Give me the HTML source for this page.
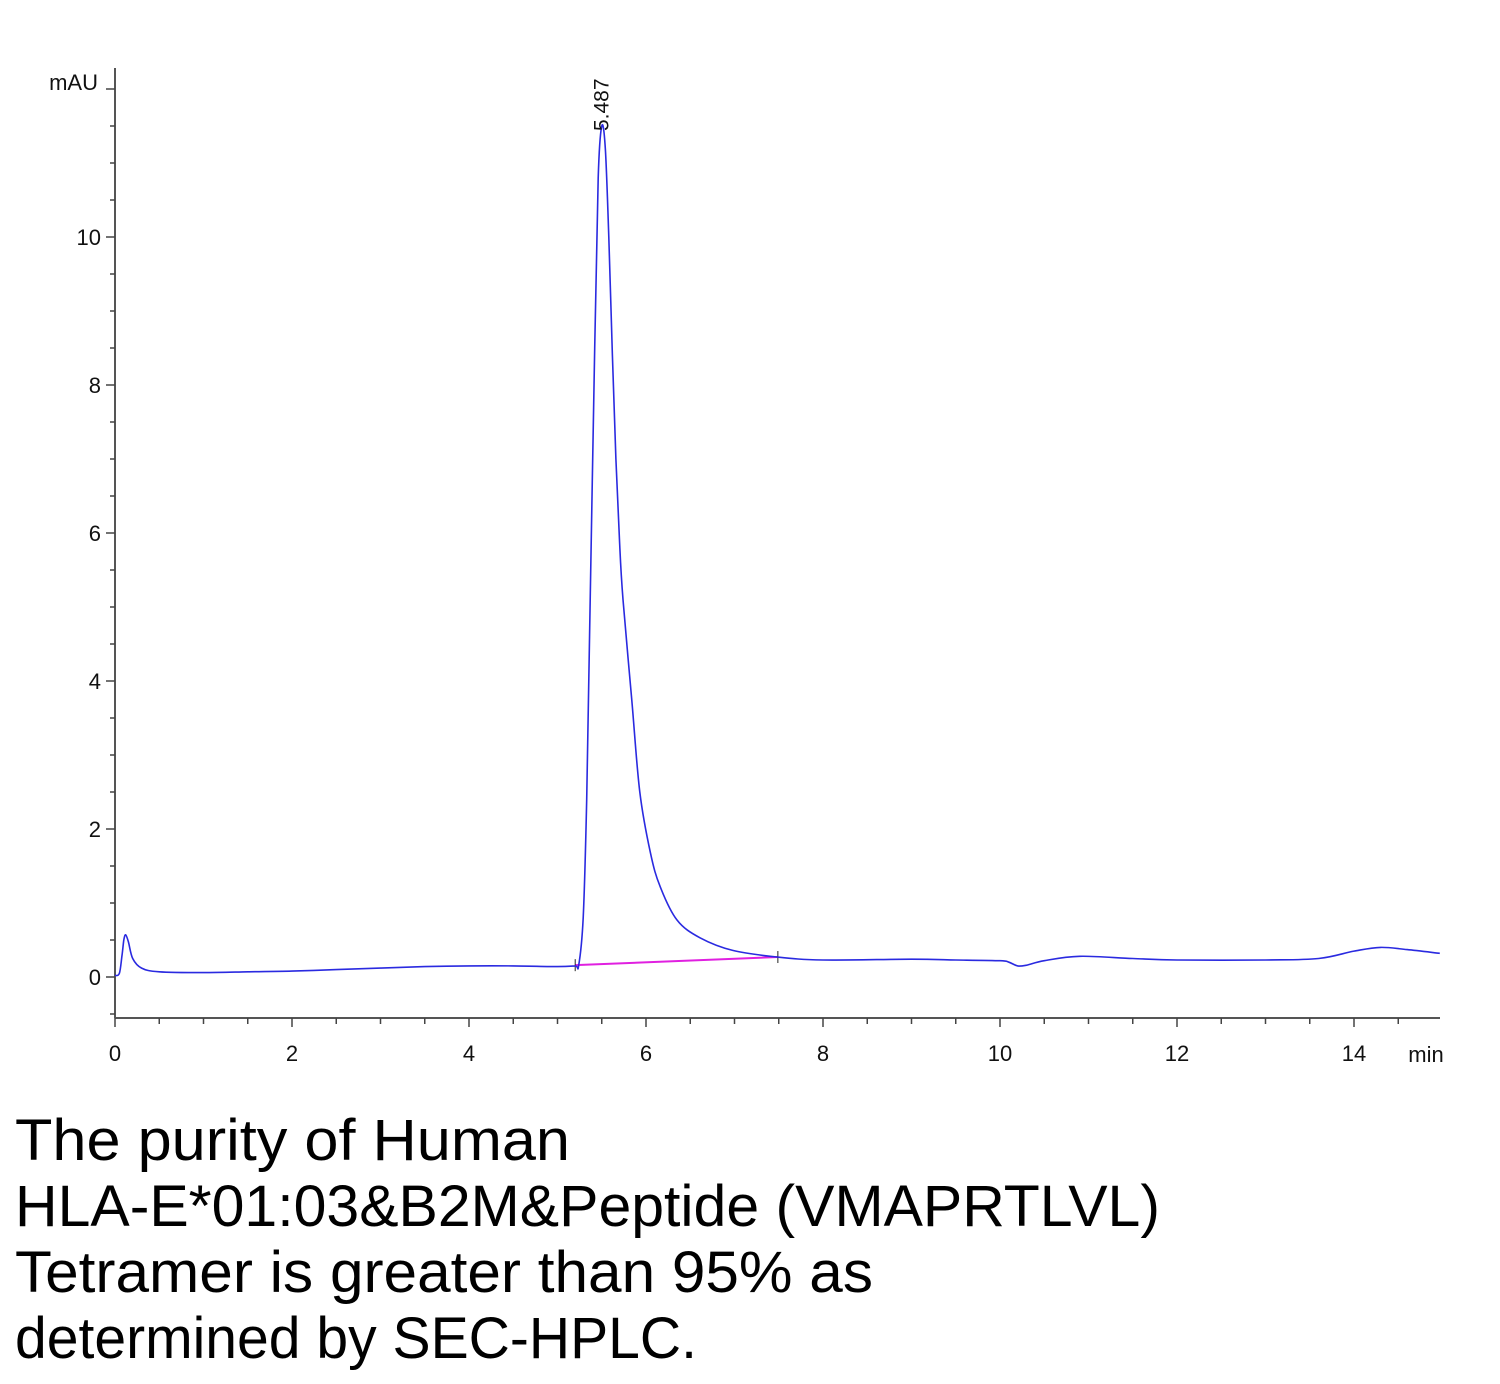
<!DOCTYPE html>
<html><head><meta charset="utf-8"><style>
html,body{margin:0;padding:0;background:#fff;}
svg{display:block;}
text{font-family:"Liberation Sans",sans-serif;}
</style></head><body>
<svg id="chart" width="1500" height="1384" viewBox="0 0 1500 1384" xmlns="http://www.w3.org/2000/svg">
<g id="axes"></g>
<g id="plot"></g>
<g font-size="58" fill="#000">
<text x="15" y="1160" textLength="555" lengthAdjust="spacingAndGlyphs">The purity of Human</text>
<text x="15" y="1226" textLength="1145" lengthAdjust="spacingAndGlyphs">HLA-E*01:03&amp;B2M&amp;Peptide (VMAPRTLVL)</text>
<text x="15" y="1292" textLength="858" lengthAdjust="spacingAndGlyphs">Tetramer is greater than 95% as</text>
<text x="15" y="1358" textLength="682" lengthAdjust="spacingAndGlyphs">determined by SEC-HPLC.</text>
</g>
</svg>
<script>
const times = [0,0.05,0.08,0.1,0.12,0.15,0.2,0.3,0.5,1,1.5,2,2.5,3,3.5,4,4.5,5,5.2,5.24,5.29,5.33,5.37,5.42,5.46,5.5,5.54,5.58,5.62,5.66,5.7,5.74,5.84,5.93,6.05,6.16,6.35,6.61,6.98,7.48,8,9,9.5,10,10.1,10.2,10.3,10.5,10.9,11.5,12,13,13.6,14,14.3,14.6,14.97];
const signal = [0.02,0.05,0.3,0.5,0.57,0.48,0.25,0.12,0.07,0.06,0.07,0.08,0.1,0.12,0.14,0.15,0.15,0.14,0.15,0.16,0.8,2.4,5.1,8.5,10.8,11.5,11.2,10.0,8.4,7.0,5.9,5.1,3.74,2.5,1.68,1.22,0.77,0.53,0.36,0.27,0.23,0.24,0.23,0.22,0.2,0.15,0.16,0.22,0.28,0.25,0.23,0.23,0.25,0.35,0.4,0.37,0.32];
const baselineT = [5.2,7.49];
const baselineV = [0.16,0.27];
const peakLabel = ["5.487"];
const peakT = [5.487];
const yTicks = [0,2,4,6,8,10];
const xTicks = [0,2,4,6,8,10,12,14];

const NS="http://www.w3.org/2000/svg";
const X0=115, XS=88.5, Y0=977, YS=74;
const sx=t=>X0+t*XS, sy=v=>Y0-v*YS;
const axes=document.getElementById('axes'), plot=document.getElementById('plot');
function mk(tag,attrs,parent){const e=document.createElementNS(NS,tag);for(const k in attrs)e.setAttribute(k,attrs[k]);parent.appendChild(e);return e;}
const AXB=1018, AXT=68, AXR=1440;
let e=mk('line',{x1:X0,y1:AXT,x2:X0,y2:AXB,stroke:'#555','stroke-width':2},axes);


e=mk('line',{x1:X0,y1:AXB,x2:AXR,y2:AXB,stroke:'#555','stroke-width':2},axes);


for(let v=-0.5;v<=12.01;v+=0.5){const maj=Math.abs(v%2)<1e-6||Math.abs(v-12)<1e-6;
 e=mk('line',{x1:X0-(maj?9:5),y1:sy(v),x2:X0,y2:sy(v),stroke:'#444','stroke-width':1.5},axes);
 
 }
yTicks.forEach(v=>{e=mk('text',{x:X0-14,y:sy(v)+8,'font-size':22,'text-anchor':'end',fill:'#111',transform:'',},axes);e.textContent=v;
 
 });
e=mk('text',{x:98,y:sy(12)+1,'font-size':22,'text-anchor':'end',fill:'#111'},axes);e.textContent='mAU';


for(let t=0;t<=14.97;t+=0.5){const maj=Math.abs(t%2)<1e-6;
 e=mk('line',{x1:sx(t),y1:AXB,x2:sx(t),y2:AXB+(maj?9:6),stroke:'#444','stroke-width':1.5},axes);
 
 }
xTicks.forEach(t=>{e=mk('text',{x:sx(t),y:1061,'font-size':22,'text-anchor':'middle',fill:'#111'},axes);e.textContent=t;
 
 });
e=mk('text',{x:1426,y:1062,'font-size':22,'text-anchor':'middle',fill:'#111'},axes);e.textContent='min';



e=mk('line',{x1:sx(baselineT[0]),y1:sy(baselineV[0]),x2:sx(baselineT[1]),y2:sy(baselineV[1]),stroke:'#e020e0','stroke-width':2},plot);


baselineT.forEach((t,i)=>{e=mk('line',{x1:sx(t),y1:sy(baselineV[i])-6,x2:sx(t),y2:sy(baselineV[i])+6,stroke:'#222','stroke-width':1},plot);
 
 });
// Catmull-Rom smoothed path
const P=times.map((t,i)=>[sx(t),sy(signal[i])]);
let d='M'+P[0][0].toFixed(1)+','+P[0][1].toFixed(1);
for(let i=0;i<P.length-1;i++){const p0=P[Math.max(0,i-1)],p1=P[i],p2=P[i+1],p3=P[Math.min(P.length-1,i+2)];
 const c1=[p1[0]+(p2[0]-p0[0])/6,p1[1]+(p2[1]-p0[1])/6],c2=[p2[0]-(p3[0]-p1[0])/6,p2[1]-(p3[1]-p1[1])/6];
 d+='C'+c1[0].toFixed(1)+','+c1[1].toFixed(1)+' '+c2[0].toFixed(1)+','+c2[1].toFixed(1)+' '+p2[0].toFixed(1)+','+p2[1].toFixed(1);}
e=mk('path',{d:d,fill:'none',stroke:'#2a2ae0','stroke-width':1.6,'stroke-linejoin':'round'},plot);


peakT.forEach((t,i)=>{const x=sx(t)+8,y=131;
 e=mk('text',{x:x,y:y,'font-size':21,fill:'#111',transform:'rotate(-90 '+x+' '+y+')'},plot);e.textContent=peakLabel[i];
 
 });
</script>
</body></html>
